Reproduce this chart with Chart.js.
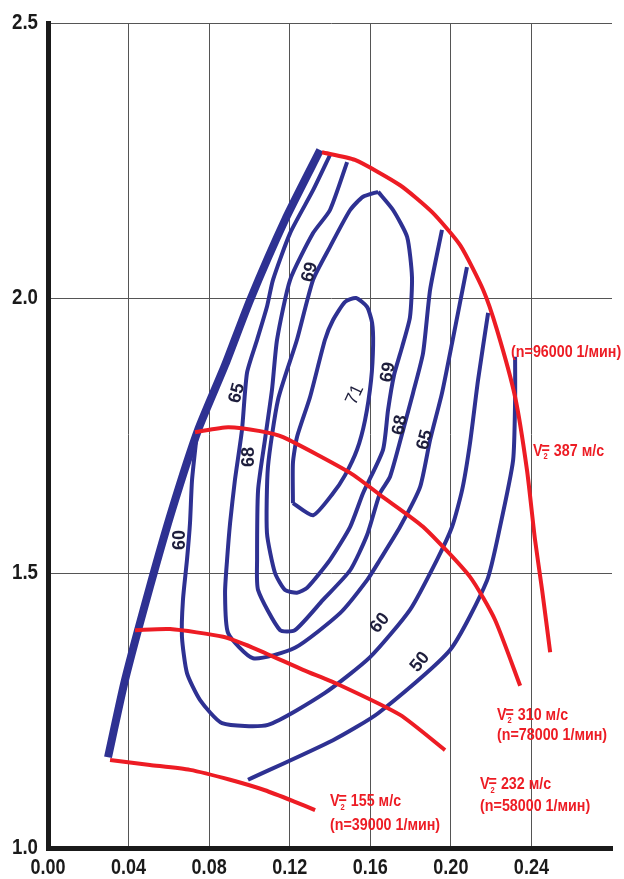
<!DOCTYPE html>
<html>
<head>
<meta charset="utf-8">
<script src="https://cdn.jsdelivr.net/npm/chart.js@4.4.0/dist/chart.umd.min.js"></script>
<style>
  html, body { margin: 0; padding: 0; background: #fff; }
  #wrap { width: 624px; height: 879px; }
</style>
</head>
<body>
<div id="wrap"><canvas id="myChart"></canvas></div>
<script>
  // axis ticks
  var xTicks = [0.00, 0.04, 0.08, 0.12, 0.16, 0.20, 0.24];
  var yTicks = [1.0, 1.5, 2.0, 2.5];

  // surge line
  var surge = [[0.0298,1.165],[0.0382,1.305],[0.0506,1.475],[0.0616,1.615],[0.0745,1.760],
               [0.0879,1.878],[0.1003,1.996],[0.1177,2.142],[0.1351,2.269]];

  // speed lines
  var n96000 = [[0.1360,2.265],[0.1524,2.251],[0.1748,2.205],[0.1907,2.156],[0.2046,2.096],[0.2160,2.015],
                [0.2229,1.942],[0.2319,1.820],[0.2378,1.687],[0.2418,1.560],[0.2453,1.469],[0.2493,1.356]];
  var n78000 = [[0.0730,1.756],[0.0894,1.765],[0.1053,1.758],[0.1167,1.747],[0.1500,1.682],
                [0.1663,1.638],[0.1862,1.584],[0.2095,1.493],[0.2219,1.415],[0.2344,1.295]];
  var n58000 = [[0.0432,1.396],[0.0606,1.398],[0.0869,1.384],[0.1018,1.364],[0.1266,1.324],
                [0.1450,1.296],[0.1748,1.242],[0.1971,1.178]];
  var n39000 = [[0.0308,1.160],[0.0506,1.151],[0.0705,1.142],[0.0904,1.124],[0.1077,1.105],
                [0.1226,1.084],[0.1326,1.069]];

  // efficiency contours
  var eff71 = [[0.1216,1.627],[0.1216,1.700],[0.1236,1.747],[0.1301,1.820],[0.1375,1.924],[0.1415,1.960],
               [0.1475,1.993],[0.1529,2.000],[0.1584,1.984],[0.1609,1.955],[0.1614,1.915],[0.1604,1.851],
               [0.1574,1.778],[0.1534,1.724],[0.1475,1.678],[0.1415,1.645],[0.1316,1.605],[0.1216,1.627]];
  var eff69 = [[0.1639,2.193],[0.1713,2.160],[0.1783,2.111],[0.1807,2.038],[0.1797,1.965],[0.1758,1.911],
               [0.1718,1.860],[0.1688,1.796],[0.1663,1.724],[0.1564,1.645],[0.1500,1.584],[0.1400,1.524],
               [0.1286,1.473],[0.1236,1.464],[0.1177,1.469],[0.1127,1.500],[0.1087,1.573],[0.1092,1.693],
               [0.1142,1.815],[0.1236,1.924],[0.1316,2.033],[0.1400,2.093],[0.1500,2.160],[0.1564,2.184],
               [0.1639,2.193]];
  var eff68 = [[0.1485,2.247],[0.1400,2.160],[0.1316,2.118],[0.1202,2.033],[0.1137,1.924],[0.1112,1.833],
               [0.1077,1.742],[0.1043,1.651],[0.1038,1.524],[0.1043,1.469],[0.1152,1.396],[0.1226,1.396],
               [0.1365,1.451],[0.1500,1.505],[0.1584,1.569],[0.1648,1.645],[0.1698,1.675],[0.1763,1.760],
               [0.1812,1.827],[0.1862,1.900],[0.1897,2.015],[0.1956,2.124]];
  var eff65 = [[0.1400,2.260],[0.1316,2.196],[0.1202,2.118],[0.1117,2.033],[0.1087,1.984],[0.1038,1.924],
               [0.0988,1.864],[0.0963,1.760],[0.0928,1.669],[0.0904,1.591],[0.0889,1.524],[0.0879,1.464],
               [0.0894,1.391],[0.1018,1.345],[0.1226,1.364],[0.1450,1.427],[0.1584,1.487],[0.1648,1.524],
               [0.1748,1.584],[0.1847,1.656],[0.1897,1.742],[0.1956,1.827],[0.2006,1.918],[0.2080,2.056]];
  var eff60 = [[0.0740,1.756],[0.0715,1.669],[0.0705,1.591],[0.0690,1.524],[0.0670,1.451],[0.0665,1.384],
               [0.0690,1.318],[0.0755,1.269],[0.0864,1.227],[0.1092,1.224],[0.1375,1.282],[0.1599,1.347],
               [0.1797,1.433],[0.1931,1.524],[0.2006,1.584],[0.2056,1.651],[0.2095,1.736],[0.2135,1.851],
               [0.2185,1.973]];
  var eff50 = [[0.2319,1.893],[0.2319,1.815],[0.2309,1.705],[0.2244,1.584],[0.2180,1.487],[0.1996,1.360],
               [0.1639,1.245],[0.1415,1.196],[0.0993,1.124]];

  // contour labels: text, anchor (x, y), angle
  var effLabels = ['60', '65', '68', '69', '71', '69', '68', '65', '60', '50'];
  var effAnchors = [[0.0655,1.560],[0.0938,1.827],[0.0998,1.711],[0.1300,2.047],[0.1524,1.824],
                    [0.1688,1.865],[0.1748,1.769],[0.1872,1.742],[0.1648,1.409],[0.1847,1.338]];
  var effAngles = [-90, -75, -90, -75, -65, -80, -80, -75, -50, -50];

  // speed line captions
  var speedV = ['387', '310', '232', '155'];
  var speedN = ['(n=96000 1/мин)', '(n=78000 1/мин)', '(n=58000 1/мин)', '(n=39000 1/мин)'];
  var speedVAt = [[0.2408,1.722],[0.2229,1.242],[0.2145,1.115],[0.1400,1.084]];
  var speedNAt = [[0.2299,1.902],[0.2229,1.204],[0.2145,1.076],[0.1400,1.042]];

  var BLUE = '#2e3192', RED = '#ed1c24', INK = '#1e1e3c', AXIS = '#1a1a1a';
  var FONT = "'Liberation Sans', Arial, sans-serif";

  function pts(a) { return a.map(p => ({ x: p[0], y: p[1] })); }
  function line(a, color, w) {
    return { data: pts(a), borderColor: color, borderWidth: w, pointRadius: 0,
             showLine: true, fill: false, tension: 0.2, borderCapStyle: 'butt', borderJoinStyle: 'round' };
  }

  // narrow text: draw with a horizontal squeeze
  function narrow(c, text, x, y, k) {
    c.save();
    c.translate(x, y);
    c.scale(k, 1);
    c.fillText(text, 0, 0);
    c.restore();
    return c.measureText(text).width * k;
  }

  var textPlugin = {
    id: 'mapText',
    afterDraw(chart) {
      var c = chart.ctx, sx = chart.scales.x, sy = chart.scales.y;
      c.save();
      // tick labels
      c.fillStyle = AXIS;
      c.font = 'bold 22px ' + FONT;
      c.textBaseline = 'middle';
      c.textAlign = 'center';
      xTicks.forEach(v => narrow(c, v.toFixed(2), sx.getPixelForValue(v), sy.bottom + 20, 0.82));
      c.textAlign = 'right';
      yTicks.forEach(v => narrow(c, v.toFixed(1), sx.left - 10, sy.getPixelForValue(v), 0.85));

      // contour labels
      c.fillStyle = INK;
      c.textAlign = 'center';
      effLabels.forEach((t, i) => {
        c.save();
        c.translate(sx.getPixelForValue(effAnchors[i][0]), sy.getPixelForValue(effAnchors[i][1]));
        c.rotate(effAngles[i] * Math.PI / 180);
        c.font = (t === '71' ? '' : 'bold ') + '18px ' + FONT;
        c.fillText(t, 0, 0);
        c.restore();
      });

      // speed captions
      c.fillStyle = RED;
      c.textAlign = 'left';
      var k = 0.84;
      speedN.forEach((t, i) => {
        c.font = 'bold 17px ' + FONT;
        narrow(c, t, sx.getPixelForValue(speedNAt[i][0]), sy.getPixelForValue(speedNAt[i][1]), k);
      });
      speedV.forEach((t, i) => {
        var x = sx.getPixelForValue(speedVAt[i][0]), y = sy.getPixelForValue(speedVAt[i][1]);
        c.font = 'bold 17px ' + FONT;
        var w = narrow(c, 'V', x, y, k);
        var we = narrow(c, '=', x + w - 1, y - 2, k);
        c.font = 'bold 9px ' + FONT;
        narrow(c, '2', x + w + 1, y + 6, k);
        c.font = 'bold 17px ' + FONT;
        narrow(c, ' ' + t + ' м/с', x + w + we - 1, y, k);
      });
      c.restore();
    }
  };

  var ctx = document.getElementById('myChart').getContext('2d');
  var myChart = new Chart(ctx, {
    type: 'scatter',
    data: {
      datasets: [
        line(n96000, RED, 4), line(n78000, RED, 4), line(n58000, RED, 4), line(n39000, RED, 4),
        line(eff71, BLUE, 4), line(eff69, BLUE, 4), line(eff68, BLUE, 4), line(eff65, BLUE, 4),
        line(eff60, BLUE, 4), line(eff50, BLUE, 4),
        line(surge, BLUE, 8)
      ]
    },
    options: {
      responsive: true,
      maintainAspectRatio: false,
      animation: false,
      layout: { padding: { top: 23, right: 12, left: 0, bottom: 0 } },
      plugins: { legend: { display: false }, tooltip: { enabled: false } },
      scales: {
        x: {
          type: 'linear', min: 0, max: 0.28,
          afterBuildTicks: s => { s.ticks = xTicks.map(v => ({ value: v })); },
          afterFit: s => { s.height = 31; },
          border: { display: true, width: 5, color: AXIS },
          grid: { color: '#555', lineWidth: 1, drawTicks: false },
          ticks: { display: false }
        },
        y: {
          type: 'linear', min: 1.0, max: 2.5,
          afterBuildTicks: s => { s.ticks = yTicks.map(v => ({ value: v })); },
          afterFit: s => { s.width = 48; },
          border: { display: true, width: 5, color: AXIS },
          grid: { color: '#555', lineWidth: 1, drawTicks: false },
          ticks: { display: false }
        }
      }
    },
    plugins: [textPlugin]
  });
</script>
</body>
</html>
